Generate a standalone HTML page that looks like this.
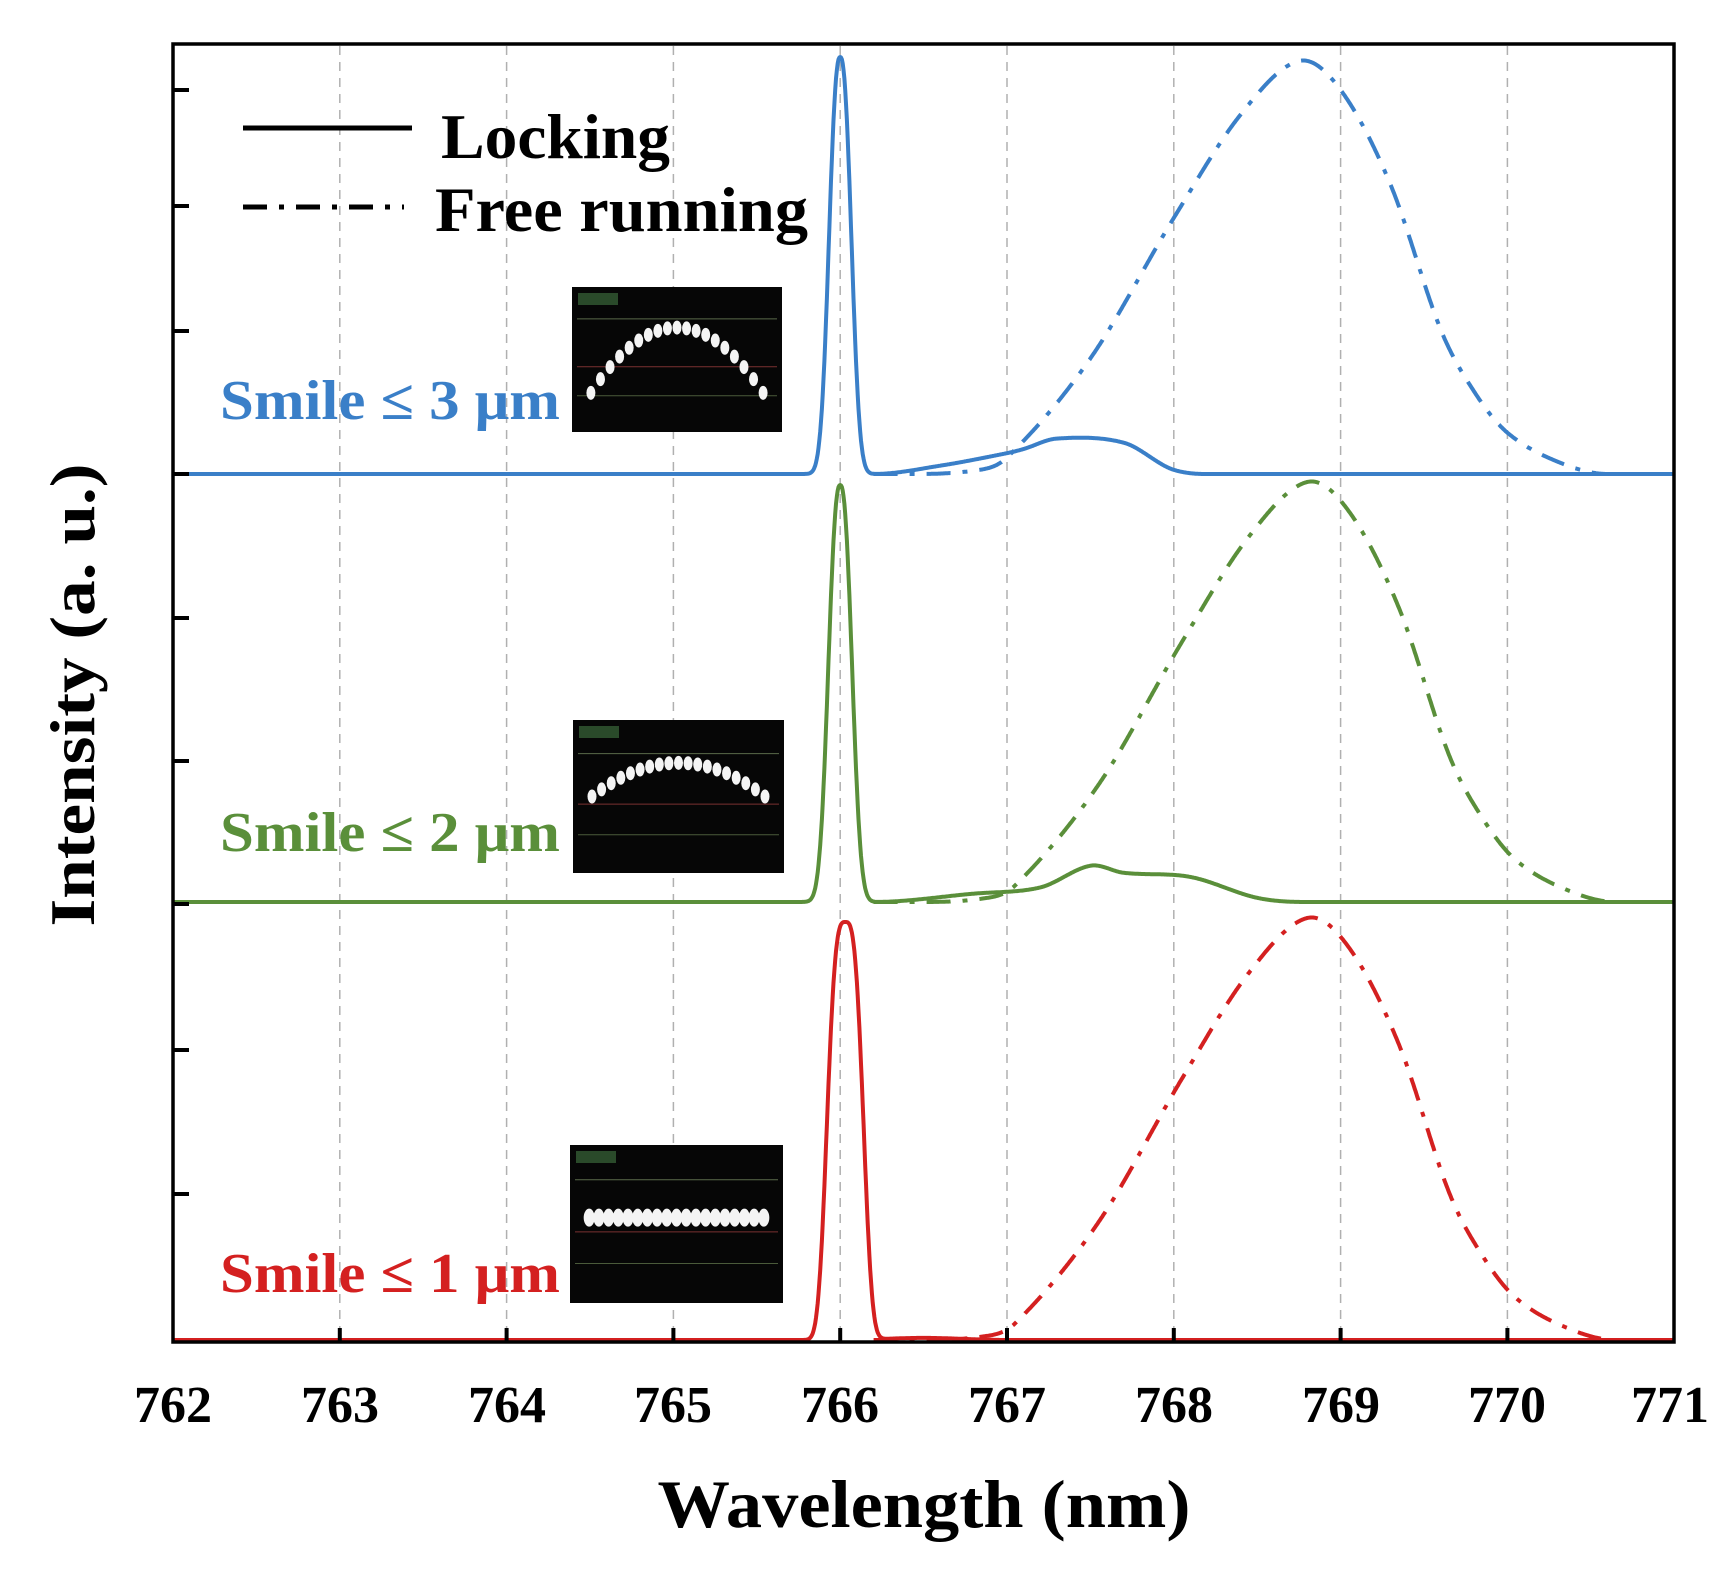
<!DOCTYPE html>
<html><head><meta charset="utf-8"><style>
html,body{margin:0;padding:0;background:#fff;}
svg{display:block;}
text{font-family:"Liberation Serif",serif;font-weight:bold;}
</style></head><body>
<svg id="s" width="1729" height="1580" viewBox="0 0 1729 1580" xmlns="http://www.w3.org/2000/svg">
<rect width="1729" height="1580" fill="#fff"/>
<g id="grid" stroke="#b0b0b0" stroke-width="1.5" stroke-dasharray="9 7"></g>
<g id="insets"></g>
<g id="curves" fill="none" stroke-linejoin="round"></g>
<rect x="173" y="44" width="1501" height="1298" fill="none" stroke="#000" stroke-width="3.5"/>
<g id="ticks" stroke="#000" stroke-width="4"></g>
<line x1="243" y1="128" x2="412" y2="128" stroke="#000" stroke-width="5"/>
<line x1="243" y1="207" x2="404" y2="207" stroke="#000" stroke-width="5" stroke-dasharray="24 12 5 12"/>
<text x="441" y="158" font-size="64" textLength="229" lengthAdjust="spacingAndGlyphs">Locking</text>
<text x="435" y="231" font-size="64" textLength="373" lengthAdjust="spacingAndGlyphs">Free running</text>
<text x="220" y="419" font-size="56" fill="#3a7fc8" textLength="340" lengthAdjust="spacingAndGlyphs">Smile ≤ 3 μm</text>
<text x="220" y="851" font-size="56" fill="#5a8f3a" textLength="340" lengthAdjust="spacingAndGlyphs">Smile ≤ 2 μm</text>
<text x="220" y="1292" font-size="56" fill="#d42020" textLength="340" lengthAdjust="spacingAndGlyphs">Smile ≤ 1 μm</text>
<g font-size="52" text-anchor="middle">
<text x="173" y="1422">762</text><text x="340" y="1422">763</text><text x="507" y="1422">764</text>
<text x="673" y="1422">765</text><text x="840" y="1422">766</text><text x="1007" y="1422">767</text>
<text x="1174" y="1422">768</text><text x="1341" y="1422">769</text><text x="1507" y="1422">770</text>
<text x="1670" y="1422">771</text>
</g>
<text x="924" y="1527" font-size="68" text-anchor="middle" textLength="533" lengthAdjust="spacingAndGlyphs">Wavelength (nm)</text>
<text transform="translate(94,695) rotate(-90)" font-size="64" text-anchor="middle" textLength="463" lengthAdjust="spacingAndGlyphs">Intensity (a. u.)</text>
</svg>
<script>
const NS="http://www.w3.org/2000/svg";
function el(p,t,a){const e=document.createElementNS(NS,t);for(const k in a)e.setAttribute(k,a[k]);document.getElementById(p).appendChild(e);return e;}
const X=l=>173+(l-762)*166.8;
for(let i=1;i<9;i++){const x=X(762+i);el('grid','line',{x1:x,y1:46,x2:x,y2:1340});
 el('ticks','line',{x1:x,y1:1342,x2:x,y2:1328});}
[90,206,331,474,618,761,904,1050,1194].forEach(y=>el('ticks','line',{x1:173,y1:y,x2:189,y2:y}));
const fr=[[766.3,0],[766.8,0.008],[767,0.04],[767.5,0.28],[768,0.62],[768.4,0.87],[768.75,1],[769,0.93],[769.3,0.7],[769.6,0.35],[769.8,0.2],[770,0.1],[770.3,0.03],[770.6,0]];
function slope(pts,i){const a=pts[Math.max(0,i-1)],b=pts[Math.min(pts.length-1,i+1)];return (b[1]-a[1])/(b[0]-a[0]);}
function interp(pts,l){if(l<=pts[0][0]||l>=pts[pts.length-1][0])return 0;for(let i=0;i<pts.length-1;i++){if(l>=pts[i][0]&&l<=pts[i+1][0]){const h=pts[i+1][0]-pts[i][0];const t=(l-pts[i][0])/h;
 const m0=(i==0?0:slope(pts,i))*h,m1=(i+1==pts.length-1?0:slope(pts,i+1))*h;
 const t2=t*t,t3=t2*t;
 return Math.max(0,(2*t3-3*t2+1)*pts[i][1]+(t3-2*t2+t)*m0+(-2*t3+3*t2)*pts[i+1][1]+(t3-t2)*m1);}}return 0;}
function path(f,base,h,a,b){let d="";for(let l=a;l<=b+1e-9;l+=0.005){d+=(d?"L":"M")+X(l).toFixed(1)+","+(base-h*f(l)).toFixed(1);}return d;}
const S=[
 {c:"#3a7fc8",base:474,hl:417,hf:413,lc:766.0,w:0.085,p:2.4,sh:0,bump:[[766.2,0],[766.6,0.02],[767.0,0.05],[767.1,0.06],[767.3,0.085],[767.7,0.075],[768.0,0.01],[768.3,0]]},
 {c:"#5a8f3a",base:902,hl:417,hf:420,lc:766.0,w:0.09,p:2.4,sh:0.05,bump:[[766.2,0],[766.8,0.02],[767.2,0.035],[767.5,0.087],[767.7,0.07],[768.1,0.06],[768.5,0.01],[768.8,0]]},
 {c:"#d42020",base:1340,hl:418,hf:422,lc:766.03,w:0.125,p:3.2,sh:0.05,bump:[[766,0],[766.5,0.005],[767,0]]}
];
S.forEach(s=>{
 el('curves','path',{d:path(l=>interp(fr,l-s.sh),s.base,s.hf,766.2,770.9),stroke:s.c,"stroke-width":4,"stroke-dasharray":"24 12 5 12"});
 const lock=l=>Math.exp(-Math.pow(Math.abs((l-s.lc)/s.w),s.p))+interp(s.bump,l);
 el('curves','path',{d:path(lock,s.base,s.hl,762,771),stroke:s.c,"stroke-width":4});
});
const ins=[{x:572,y:287,w:210,h:145,type:3},{x:573,y:720,w:211,h:153,type:2},{x:570,y:1145,w:213,h:158,type:1}];
ins.forEach(o=>{
 el('insets','rect',{x:o.x,y:o.y,width:o.w,height:o.h,fill:"#060606"});
 el('insets','line',{x1:o.x+5,y1:o.y+o.h*0.22,x2:o.x+o.w-5,y2:o.y+o.h*0.22,stroke:"#5a6a4a","stroke-width":1});
 el('insets','line',{x1:o.x+5,y1:o.y+o.h*0.55,x2:o.x+o.w-5,y2:o.y+o.h*0.55,stroke:"#7a3030","stroke-width":1});
 el('insets','line',{x1:o.x+5,y1:o.y+o.h*0.75,x2:o.x+o.w-5,y2:o.y+o.h*0.75,stroke:"#4a5a3a","stroke-width":1});
 el('insets','rect',{x:o.x+6,y:o.y+6,width:40,height:12,fill:"#2a4a2a"});
 const n=19;
 for(let i=0;i<n;i++){const t=i/(n-1);const cx=o.x+o.w*0.09+t*o.w*0.82;
  let cy;if(o.type==3)cy=o.y+o.h*(0.73-0.45*(1-Math.pow(2*t-1,2)));
  else if(o.type==2)cy=o.y+o.h*(0.5-0.22*(1-Math.pow(2*t-1,2)));
  else cy=o.y+o.h*0.46;
  el('insets','ellipse',{cx:cx,cy:cy,rx:o.type==1?5.5:4.5,ry:o.type==1?9:7,fill:"#f4f4f4"});}
});
</script>
</body></html>
